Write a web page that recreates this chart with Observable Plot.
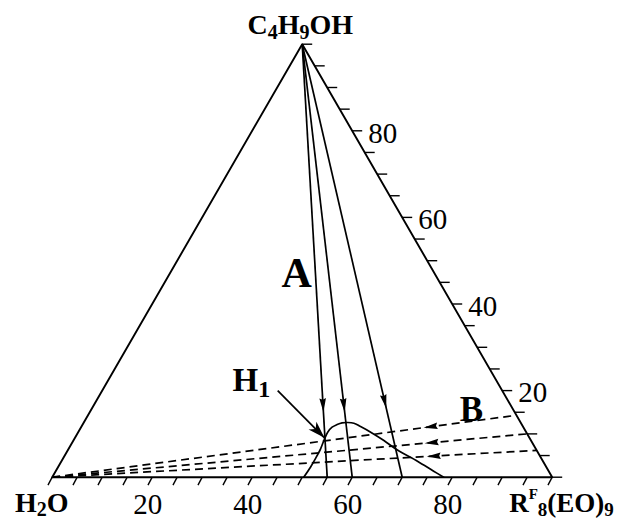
<!DOCTYPE html>
<html>
<head>
<meta charset="utf-8">
<script src="https://cdn.jsdelivr.net/npm/d3@7"></script>
<script src="https://cdn.jsdelivr.net/npm/@observablehq/plot@0.6"></script>
<style>
  html, body { margin: 0; padding: 0; background: #fff; }
  #chart svg { display: block; }
</style>
</head>
<body>
<div id="chart"></div>
<script>
// Compositions in wt%: r = RF8(EO)9, b = C4H9OH, water = 100 - r - b
const vertexNames = ["H2O", "C4H9OH", "RF8(EO)9"];
const vertexR = [0, 0, 100];
const vertexB = [0, 100, 0];

const bottomTickValues = [0,5,10,15,20,25,30,35,40,45,50,55,60,65,70,75,80,85,90,95,100];
const rightTickValues  = [0,5,10,15,20,25,30,35,40,45,50,55,60,65,70,75,80,85,90,95,100];
const bottomTickLabels = [20, 40, 60, 80];
const rightTickLabels  = [20, 40, 60, 80];

// A: butanol dilution lines from water/surfactant binaries
const lineA_R = [55, 60, 70];
const lineA_arrowB = [15, 15, 15.9];

// B: water dilution lines from surfactant/butanol mixtures
const lineB_B = [14.3, 10, 6.2];
const lineB_arrowW = [20, 21.6, 22.7];

// H1 phase boundary
const h1R = [50.3, 50.5, 50.5, 50.4, 50.1, 49.9, 50.2, 50.9, 51.7, 52.7, 54.1, 55.8, 58.5, 62.1, 65.8, 71.2, 75.6, 78.3];
const h1B = [0, 2.31, 4.25, 6.56, 8.48, 10.4, 11.55, 12.17, 12.56, 12.63, 12.47, 11.7, 10.4, 8.48, 6.33, 3.7, 1.39, 0];

// H1 pointer arrow (start, tip)
const h1ArrowR = [35.1, 49.9];
const h1ArrowB = [20.0, 9.1];

// Region labels
const labelText = ["A", "B", "H1"];
const labelR = [26.96, 77.3, 26.05];
const labelB = [43.88, 13.09, 20.02];

// ---- ternary -> cartesian helpers (data units, same scale on both axes)
const S3 = Math.sqrt(3) / 2;
const tx = (r, b) => r / 100 + b / 200;
const ty = (b) => (b / 100) * S3;
const rotTo = (dx, dy) => Math.atan2(dx, dy) * 180 / Math.PI;

const triangle = [0, 1, 2, 0].map(i => ({r: vertexR[i], b: vertexB[i]}));
const apex = {r: vertexR[1], b: vertexB[1]};
const h2o = {r: vertexR[0], b: vertexB[0]};

const aLines = lineA_R.map((r, i) => ({r, ab: lineA_arrowB[i]}));
const bLines = lineB_B.map((b, i) => ({b, r: 100 - b, aw: lineB_arrowW[i]}));
const h1 = h1R.map((r, i) => ({r, b: h1B[i]}));
const labels = labelText.map((t, i) => ({t, r: labelR[i], b: labelB[i]}));

// custom symbols
const tickSym = (len) => ({draw(ctx) { ctx.moveTo(0, 0); ctx.lineTo(0, len); }});
const hTickSym = (len) => ({draw(ctx) { ctx.moveTo(0, 0); ctx.lineTo(len, 0); }});
const headSym = (L, w, notch) => ({draw(ctx) {
  ctx.moveTo(0, 0); ctx.lineTo(-w, L); ctx.lineTo(0, L - notch); ctx.lineTo(w, L); ctx.closePath();
}});

const chart = Plot.plot({
  width: 623,
  height: 519,
  marginLeft: 51.7,
  marginRight: 71.3,
  marginTop: 43.7,
  marginBottom: 42.3,
  x: {domain: [0, 1], axis: null},
  y: {domain: [0, S3], axis: null},
  style: "font-family: 'Liberation Serif', 'Times New Roman', serif; background: white; color: black;",
  marks: [
    // triangle
    Plot.line(triangle, {x: d => tx(d.r, d.b), y: d => ty(d.b), stroke: "black", strokeWidth: 1.9, curve: "linear"}),
    // bottom ticks (slanted)
    Plot.dot(bottomTickValues, {x: v => tx(v, 0), y: 0, symbol: tickSym(9), rotate: 28, fill: "none", stroke: "black", strokeWidth: 1.4}),
    // right-side ticks (horizontal)
    Plot.dot(rightTickValues, {x: v => tx(100 - v, v), y: v => ty(v), symbol: hTickSym(10), fill: "none", stroke: "black", strokeWidth: 1.4}),
    // tick labels
    Plot.text(bottomTickLabels, {x: v => tx(v, 0), y: 0, text: d => String(d), dx: -4.5, dy: 36.5, lineAnchor: "bottom", textAnchor: "middle", fontSize: 29}),
    Plot.text(rightTickLabels, {x: v => tx(100 - v, v), y: v => ty(v), text: d => String(d), dx: 16, dy: 2.5, lineAnchor: "middle", textAnchor: "start", fontSize: 29}),
    // H1 boundary
    Plot.line(h1, {x: d => tx(d.r, d.b), y: d => ty(d.b), stroke: "black", strokeWidth: 1.7, curve: "catmull-rom"}),
    // A lines
    Plot.link(aLines, {x1: tx(apex.r, apex.b), y1: ty(apex.b), x2: d => tx(d.r, 0), y2: 0, stroke: "black", strokeWidth: 1.7}),
    Plot.dot(aLines, {
      x: d => tx(d.r * (1 - d.ab / 100), d.ab), y: d => ty(d.ab),
      symbol: headSym(14, 3.3, 1.5),
      rotate: d => rotTo(tx(d.r, 0) - tx(apex.r, apex.b), 0 - ty(apex.b)),
      fill: "black", stroke: "none"
    }),
    // B lines (dashed)
    Plot.link(bLines, {x1: tx(h2o.r, h2o.b), y1: ty(h2o.b), x2: d => tx(d.r, d.b), y2: d => ty(d.b), stroke: "black", strokeWidth: 1.7, strokeDasharray: "8,5"}),
    Plot.dot(bLines, {
      x: d => tx(d.r * (1 - d.aw / 100), d.b * (1 - d.aw / 100)), y: d => ty(d.b * (1 - d.aw / 100)),
      symbol: headSym(14, 3.3, 1.5),
      rotate: d => rotTo(tx(h2o.r, h2o.b) - tx(d.r, d.b), ty(h2o.b) - ty(d.b)),
      fill: "black", stroke: "none"
    }),
    // H1 pointer
    Plot.link([0], {x1: tx(h1ArrowR[0], h1ArrowB[0]), y1: ty(h1ArrowB[0]), x2: tx(h1ArrowR[1], h1ArrowB[1]), y2: ty(h1ArrowB[1]), stroke: "black", strokeWidth: 1.7}),
    Plot.dot([0], {
      x: tx(h1ArrowR[1], h1ArrowB[1]), y: ty(h1ArrowB[1]),
      symbol: headSym(17, 5.5, 4.5),
      rotate: rotTo(tx(h1ArrowR[1], h1ArrowB[1]) - tx(h1ArrowR[0], h1ArrowB[0]), ty(h1ArrowB[1]) - ty(h1ArrowB[0])),
      fill: "black", stroke: "none"
    }),
    // region labels
    Plot.text(labels.filter(d => d.t === "A"), {x: d => tx(d.r, d.b), y: d => ty(d.b), text: "t", textAnchor: "middle", lineAnchor: "bottom", fontSize: 42, fontWeight: "bold"}),
    Plot.text(labels.filter(d => d.t === "B"), {x: d => tx(d.r, d.b), y: d => ty(d.b), text: "t", textAnchor: "middle", lineAnchor: "bottom", fontSize: 35, fontWeight: "bold"}),
    Plot.text(labels.filter(d => d.t === "H1"), {x: d => tx(d.r, d.b), y: d => ty(d.b), text: "t", textAnchor: "start", lineAnchor: "bottom", fontSize: 33, fontWeight: "bold"}),
    // vertex labels
    Plot.text([0], {x: tx(vertexR[1], vertexB[1]), y: ty(vertexB[1]), text: [vertexNames[1]], textAnchor: "middle", lineAnchor: "bottom", dx: -2, dy: -10.4, fontSize: 28, fontWeight: "bold"}),
    Plot.text([0], {x: tx(vertexR[0], vertexB[0]), y: ty(vertexB[0]), text: [vertexNames[0]], textAnchor: "middle", lineAnchor: "bottom", dx: -10.4, dy: 35, fontSize: 28, fontWeight: "bold"}),
    Plot.text([0], {x: tx(vertexR[2], vertexB[2]), y: ty(vertexB[2]), text: [vertexNames[2]], textAnchor: "start", lineAnchor: "bottom", dx: -43, dy: 35, fontSize: 27, fontWeight: "bold"})
  ]
});

// sub/superscripts for chemical names
const rich = {
  "C4H9OH": {fs: 28, sub: 0.2, parts: [["C"], ["4", "sub"], ["H"], ["9", "sub"], ["OH"]]},
  "H2O": {fs: 28, sub: 0.14, parts: [["H"], ["2", "sub"], ["O"]]},
  "RF8(EO)9": {fs: 27, sub: 0.14, parts: [["R"], ["F", "sup"], ["8", "sub"], ["(EO)"], ["9", "sub"]]},
  "H1": {fs: 33, sub: 0.2, parts: [["H"], ["1", "sub"]]}
};
d3.select(chart).selectAll("text").each(function () {
  const spec = rich[this.textContent];
  if (!spec) return;
  const t = d3.select(this);
  t.text(null);
  let shift = 0;
  for (const [s, kind] of spec.parts) {
    const target = kind === "sub" ? spec.sub * spec.fs : kind === "sup" ? -0.48 * spec.fs : 0;
    const sp = t.append("tspan").text(s);
    if (target !== shift) sp.attr("dy", target - shift);
    shift = target;
    if (kind === "sub") sp.attr("font-size", Math.round(0.72 * spec.fs));
    if (kind === "sup") sp.attr("font-size", Math.round(0.55 * spec.fs));
  }
});

document.getElementById("chart").appendChild(chart);
</script>
</body>
</html>
